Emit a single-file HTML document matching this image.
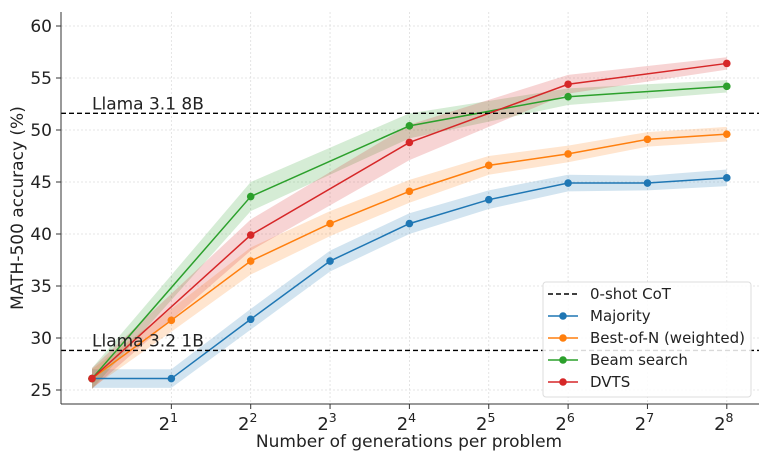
<!DOCTYPE html>
<html><head><meta charset="utf-8"><style>
html,body{margin:0;padding:0;background:#fff;}
svg{display:block;font-family:"DejaVu Sans","Liberation Sans",sans-serif;}
</style></head><body>
<svg id="s" width="770" height="462" viewBox="0 0 770 462" xmlns="http://www.w3.org/2000/svg"></svg>
<script>
const s=document.getElementById('s');
const X=k=>92+79.35*k, Y=v=>390-(v-25)*10.4;
let h='';
for(let v=25;v<=60;v+=5){h+=`<line x1="61" x2="759" y1="${Y(v)}" y2="${Y(v)}" stroke="#ddd" stroke-width="0.8" stroke-dasharray="2,2"/>`;
h+=`<line x1="56" x2="61" y1="${Y(v)}" y2="${Y(v)}" stroke="#333"/>`;
h+=`<text x="52" y="${Y(v)+6}" font-size="17" text-anchor="end" fill="#222">${v}</text>`;}
for(let k=1;k<=8;k++){h+=`<line x1="${X(k)}" x2="${X(k)}" y1="12" y2="404" stroke="#ddd" stroke-width="0.8" stroke-dasharray="2,2"/>`;
h+=`<line x1="${X(k)}" x2="${X(k)}" y1="404" y2="409" stroke="#333"/>`;
h+=`<text x="${X(k)-3}" y="430" font-size="18" text-anchor="middle" fill="#222">2<tspan font-size="12.5" dy="-8">${k}</tspan></text>`;}
const series=[
 ['#1f77b4',[[0,26.1,.9],[1,26.1,.9],[2,31.8,1],[3,37.4,1],[4,41,1],[5,43.3,.9],[6,44.9,.8],[7,44.9,.7],[8,45.4,.8]]],
 ['#ff7f0e',[[0,26.1,.9],[1,31.7,1.1],[2,37.4,1.3],[3,41,1.2],[4,44.1,1.1],[5,46.6,.9],[6,47.7,.8],[7,49.1,.7],[8,49.6,.7]]],
 ['#2ca02c',[[0,26.1,1],[2,43.6,1.4],[4,50.4,1.2],[6,53.2,.8],[8,54.2,.6]]],
 ['#d62728',[[0,26.1,1],[2,39.9,1.5],[4,48.8,1.7],[6,54.4,.9],[8,56.4,.6]]]];
for(const [c,d] of series){
 let up=d.map(p=>`${X(p[0])},${Y(p[1]+p[2])}`),lo=d.slice().reverse().map(p=>`${X(p[0])},${Y(p[1]-p[2])}`);
 h+=`<polygon points="${up.concat(lo).join(' ')}" fill="${c}" fill-opacity="0.2"/>`;}
for(const [c,d] of series){
 h+=`<polyline points="${d.map(p=>X(p[0])+','+Y(p[1])).join(' ')}" fill="none" stroke="${c}" stroke-width="1.5"/>`;
 for(const p of d)h+=`<circle cx="${X(p[0])}" cy="${Y(p[1])}" r="3.8" fill="${c}"/>`;}
for(const [v,t] of [[51.6,'Llama 3.1 8B'],[28.8,'Llama 3.2 1B']]){
 h+=`<line x1="61" x2="759" y1="${Y(v)}" y2="${Y(v)}" stroke="#000" stroke-width="1.4" stroke-dasharray="5,3"/>`;
 h+=`<text x="92" y="${Y(v)-4}" font-size="17" fill="#222">${t}</text>`;}
h+=`<line x1="61" x2="61" y1="12" y2="404" stroke="#333" stroke-width="1"/><line x1="61" x2="759" y1="404" y2="404" stroke="#333" stroke-width="1"/>`;
h+=`<text x="409" y="447" font-size="17" text-anchor="middle" fill="#222">Number of generations per problem</text>`;
h+=`<text transform="translate(23,208) rotate(-90)" font-size="17" text-anchor="middle" fill="#222">MATH-500 accuracy (%)</text>`;
h+=`<rect x="543" y="282" width="208" height="115" rx="3" fill="#fff" fill-opacity="0.85" stroke="#ddd"/>`;
const L=[['#000','0-shot CoT',1],['#1f77b4','Majority'],['#ff7f0e','Best-of-N (weighted)'],['#2ca02c','Beam search'],['#d62728','DVTS']];
L.forEach((l,i)=>{const y=294+i*22;
 if(l[2])h+=`<line x1="548" x2="578" y1="${y}" y2="${y}" stroke="#000" stroke-width="1.4" stroke-dasharray="5,3"/>`;
 else h+=`<line x1="548" x2="578" y1="${y}" y2="${y}" stroke="${l[0]}" stroke-width="1.5"/><circle cx="563" cy="${y}" r="3.8" fill="${l[0]}"/>`;
 h+=`<text x="590" y="${y+5}" font-size="15" fill="#222">${l[1]}</text>`;});
s.innerHTML=h;
</script>
</body></html>
